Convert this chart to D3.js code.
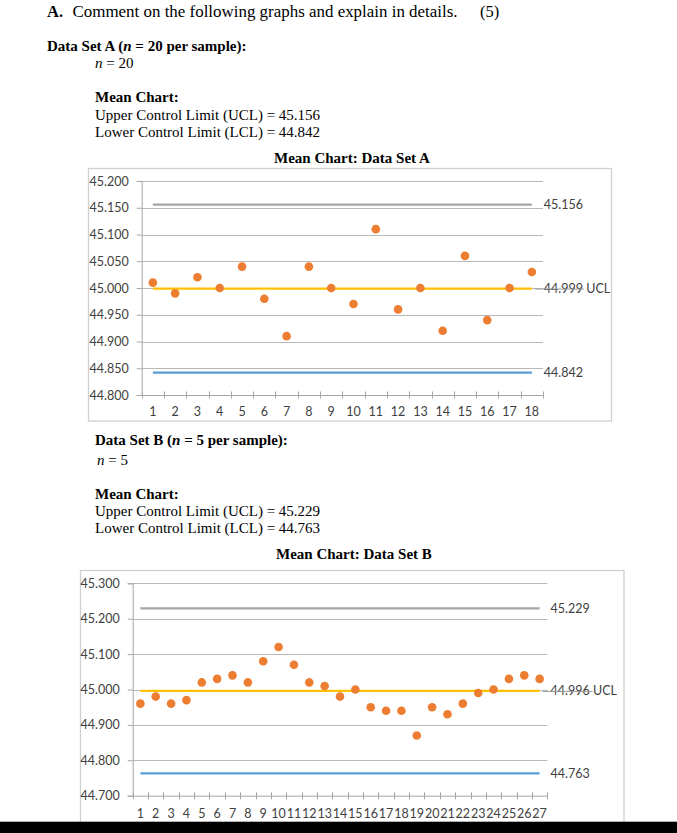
<!DOCTYPE html>
<html><head><meta charset="utf-8">
<script src="https://cdn.jsdelivr.net/npm/d3@7"></script>
<style>
html,body{margin:0;padding:0;background:#fff;}
svg{display:block;}
</style></head>
<body>
<svg id="page" width="677" height="833"></svg>
<script>
// ---------- DATA ----------
const samplesA = d3.range(1, 19).map(String);
const meansA = [45.01, 44.99, 45.02, 45.00, 45.04, 44.98, 44.91, 45.04, 45.00, 44.97, 45.11, 44.96, 45.00, 44.92, 45.06, 44.94, 45.00, 45.03];
const limitsA = {ucl: 45.156, cl: 44.999, lcl: 44.842};
const yTicksA = [44.80, 44.85, 44.90, 44.95, 45.00, 45.05, 45.10, 45.15, 45.20];

const samplesB = d3.range(1, 28).map(String);
const meansB = [44.96, 44.98, 44.96, 44.97, 45.02, 45.03, 45.04, 45.02, 45.08, 45.12, 45.07, 45.02, 45.01, 44.98, 45.00, 44.95, 44.94, 44.94, 44.87, 44.95, 44.93, 44.96, 44.99, 45.00, 45.03, 45.04, 45.03];
const limitsB = {ucl: 45.229, cl: 44.996, lcl: 44.763};
const yTicksB = [44.7, 44.8, 44.9, 45.0, 45.1, 45.2, 45.3];

// ---------- PAGE ----------
const svg = d3.select("#page");
const serif = "'Liberation Serif','Times New Roman',serif";
const sans = "Lato,'Open Sans',sans-serif";

function txt(x, y, parts, opts) {
  const t = svg.append("text").attr("x", x).attr("y", y)
    .attr("font-family", serif).attr("font-size", opts.size || 15)
    .attr("fill", "#000");
  if (opts.len) t.attr("textLength", opts.len).attr("lengthAdjust", "spacingAndGlyphs");
  parts.forEach(p => {
    t.append("tspan").text(p.t)
      .attr("font-weight", p.b ? "bold" : "normal")
      .attr("font-style", p.i ? "italic" : "normal");
  });
  return t;
}

// heading
txt(47, 17, [{t: "A.", b: true}], {size: 16.5});
txt(72.5, 17, [{t: "Comment on the following graphs and explain in details."}], {size: 16.5, len: 385});
txt(480, 17, [{t: "(5)"}], {size: 16.5});

// Data set A block
txt(47, 51, [{t: "Data Set A (", b: true}, {t: "n", b: true, i: true}, {t: " = 20 per sample):", b: true}], {size: 15});
txt(95, 68, [{t: "n", i: true}, {t: " = 20"}], {size: 15});
txt(95, 102, [{t: "Mean Chart:", b: true}], {size: 15});
txt(95, 120, [{t: "Upper Control Limit (UCL) = 45.156"}], {size: 15});
txt(95, 137, [{t: "Lower Control Limit (LCL) = 44.842"}], {size: 15});
txt(274, 163, [{t: "Mean Chart: Data Set A", b: true}], {size: 15});

// Data set B block
txt(95, 445, [{t: "Data Set B (", b: true}, {t: "n", b: true, i: true}, {t: " = 5 per sample):", b: true}], {size: 15});
txt(97, 465, [{t: "n", i: true}, {t: " = 5"}], {size: 15});
txt(95, 499, [{t: "Mean Chart:", b: true}], {size: 15});
txt(95, 516, [{t: "Upper Control Limit (UCL) = 45.229"}], {size: 15});
txt(95, 533, [{t: "Lower Control Limit (LCL) = 44.763"}], {size: 15});
txt(276, 559, [{t: "Mean Chart: Data Set B", b: true}], {size: 15});

// ---------- CHART ----------
function chart(cfg) {
  const g = svg.append("g");
  g.append("rect").attr("x", cfg.frame[0]).attr("y", cfg.frame[1])
    .attr("width", cfg.frame[2]).attr("height", cfg.frame[3])
    .attr("fill", "#fff").attr("stroke", "#d0d0d0").attr("stroke-width", 1.3);

  const x = d3.scaleBand().domain(cfg.cats).range([cfg.left, cfg.right]).padding(0);
  const xl = d3.scaleLinear().domain([0, cfg.cats.length]).range([cfg.left, cfg.right]);
  const y = d3.scaleLinear().domain(cfg.ydom).range([cfg.bottom, cfg.top]);

  // gridlines
  g.append("g").selectAll("line").data(cfg.yticks.slice(1)).join("line")
    .attr("x1", cfg.left).attr("x2", cfg.right)
    .attr("y1", d => Math.round(y(d)) + 0.5).attr("y2", d => Math.round(y(d)) + 0.5)
    .attr("stroke", "#b8b8b8").attr("stroke-width", 1);

  // y axis
  const ya = g.append("g").attr("transform", `translate(${cfg.left},0)`)
    .call(d3.axisLeft(y).tickValues(cfg.yticks).tickFormat(d3.format(".3f")).tickSize(5).tickPadding(cfg.ypad));
  ya.select(".domain").attr("stroke", "#a6a6a6");
  ya.selectAll(".tick line").attr("stroke", "#a6a6a6");
  ya.selectAll(".tick text").attr("font-family", sans).attr("font-size", 12.5).attr("fill", "#404040");

  // x axis line + cross ticks at category boundaries
  g.append("line").attr("x1", cfg.left).attr("x2", cfg.right)
    .attr("y1", cfg.bottom + 0.5).attr("y2", cfg.bottom + 0.5).attr("stroke", "#a6a6a6");
  g.append("g").selectAll("line").data(d3.range(cfg.cats.length + 1)).join("line")
    .attr("x1", d => Math.round(xl(d)) + 0.5).attr("x2", d => Math.round(xl(d)) + 0.5)
    .attr("y1", cfg.bottom - 3.5).attr("y2", cfg.bottom + 3.5)
    .attr("stroke", "#a6a6a6");
  const xa = g.append("g").attr("transform", `translate(0,${cfg.bottom})`)
    .call(d3.axisBottom(x).tickSize(0).tickPadding(cfg.xpad));
  xa.select(".domain").remove();
  xa.selectAll(".tick text").attr("font-family", sans).attr("font-size", 12.5).attr("fill", "#404040");

  const x0 = x(cfg.cats[0]) + x.bandwidth() / 2;
  const x1 = x(cfg.cats[cfg.cats.length - 1]) + x.bandwidth() / 2;

  const lines = [
    {v: cfg.lim.ucl, c: "#a5a5a5", lab: cfg.lim.ucl.toFixed(3), extra: ""},
    {v: cfg.lim.lcl, c: "#5b9bd5", lab: cfg.lim.lcl.toFixed(3), extra: ""},
    {v: cfg.lim.cl, c: "#ffc000", lab: cfg.lim.cl.toFixed(3), extra: " UCL", leader: true}
  ];
  g.append("g").selectAll("line").data(lines).join("line")
    .attr("x1", x0).attr("x2", x1)
    .attr("y1", d => y(d.v)).attr("y2", d => y(d.v))
    .attr("stroke", d => d.c).attr("stroke-width", 2.2);

  const lx = x1 + cfg.labOff;
  lines.forEach(d => {
    g.append("text").attr("x", lx).attr("y", y(d.v))
      .attr("dy", "0.35em").attr("font-family", sans).attr("font-size", 12.5).attr("fill", "#404040")
      .text(d.lab + d.extra);
    if (d.leader) {
      g.append("line").attr("x1", x1 + 3).attr("x2", lx + cfg.leadLen)
        .attr("y1", y(d.v) + 0.5).attr("y2", y(d.v) + 0.5)
        .attr("stroke", "#9a9a9a").attr("stroke-width", 1);
    }
  });

  g.append("g").selectAll("circle").data(cfg.vals).join("circle")
    .attr("cx", (d, i) => x(cfg.cats[i]) + x.bandwidth() / 2)
    .attr("cy", d => y(d))
    .attr("r", 4.3).attr("fill", "#ed7d31");
}

chart({
  frame: [88.5, 168.5, 523, 252.5],
  cats: samplesA, vals: meansA, lim: limitsA, yticks: yTicksA,
  ydom: [44.8, 45.2], left: 141.7, right: 543, top: 181, bottom: 395,
  ypad: 8, xpad: 12, labOff: 12, leadLen: 40
});

chart({
  frame: [80.5, 570.5, 543.5, 300],
  cats: samplesB, vals: meansB, lim: limitsB, yticks: yTicksB,
  ydom: [44.7, 45.3], left: 132.7, right: 547.3, top: 583.3, bottom: 795.7,
  ypad: 8, xpad: 13, labOff: 11, leadLen: 42
});

svg.append("rect").attr("x", 0).attr("y", 821.7).attr("width", 677).attr("height", 12).attr("fill", "#000");
</script>
</body></html>
